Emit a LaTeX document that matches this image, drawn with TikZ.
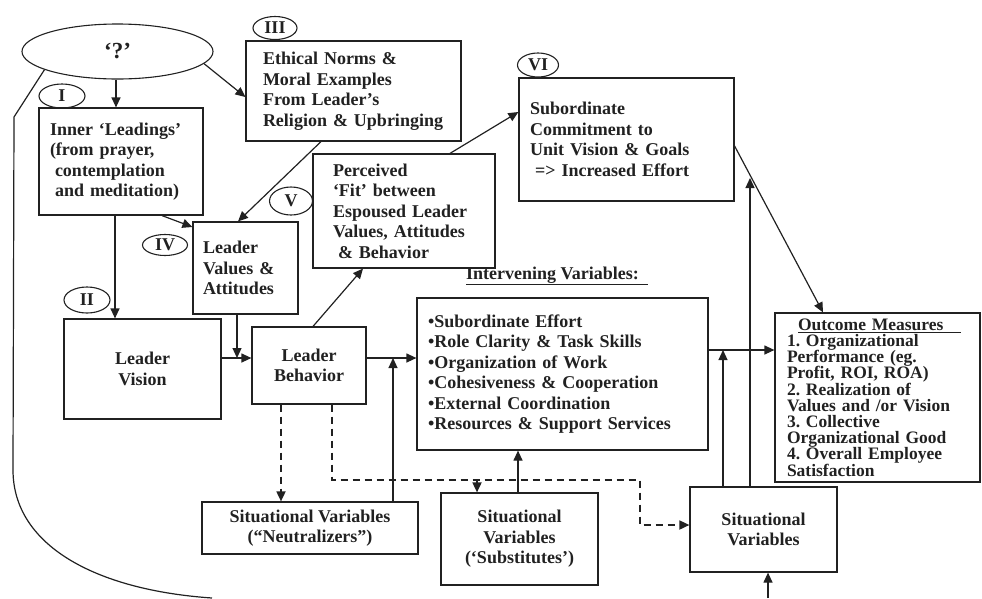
\documentclass[tikz,border=0pt]{standalone}
\usepackage{fontspec}
\setmainfont{Liberation Serif}
\usetikzlibrary{arrows.meta,shapes.geometric,calc}
\definecolor{ink}{rgb}{0.13,0.13,0.13}
\frenchspacing
\begin{document}
\begin{tikzpicture}[x=1pt,y=-1pt,
  every node/.style={text=ink,font=\bfseries\fontsize{18}{20.5}\selectfont},
  box/.style={draw=ink,line width=1.2pt,rectangle,inner ysep=0pt},
  lbox/.style={box,align=left},
  cbox/.style={box,align=center},
  tag/.style={draw=ink,line width=1.1pt,ellipse,inner sep=0pt},
  link/.style={draw=ink,line width=1.2pt,-{Triangle[length=10pt,width=9pt]}},
  plain/.style={draw=ink,line width=1.2pt},
  dlink/.style={draw=ink,line width=1.7pt,dash pattern=on 7pt off 5pt,-{Triangle[length=10pt,width=9pt]}}]
\useasboundingbox (0,0) rectangle (982,598);

% source ellipse
\node[tag,minimum width=191pt,minimum height=55pt,font=\bfseries\fontsize{23}{26}\selectfont] (q) at (117.5,51.5) {‘?’};

% boxes
\node[lbox,minimum width=164pt,minimum height=107pt,text width=142pt,inner xsep=11pt] (I) at (121,161.5)
  {Inner ‘Leadings’\\(from prayer,\\\hspace*{5pt}contemplation\\\hspace*{5pt}and meditation)};
\node[lbox,minimum width=215pt,minimum height=100pt,text width=181pt,inner xsep=17pt] (III) at (353.5,91)
  {Ethical Norms \&\\Moral Examples\\From Leader’s\\Religion \& Upbringing};
\node[lbox,minimum width=105pt,minimum height=92pt,text width=85pt,inner xsep=10pt] (IV) at (245.5,268)
  {Leader\\Values \&\\Attitudes};
\node[lbox,minimum width=182pt,minimum height=114pt,text width=160pt,inner xsep=11pt] (V) at (404,211)
  {\hspace*{9pt}Perceived\\\hspace*{9pt}‘Fit’ between\\\hspace*{9pt}Espoused Leader\\\hspace*{9pt}Values, Attitudes\\\hspace*{14pt}\& Behavior};
\node[lbox,minimum width=215pt,minimum height=123pt,text width=193pt,inner xsep=11pt] (VI) at (626.5,139.5)
  {Subordinate\\Commitment to\\Unit Vision \& Goals\\\hspace*{5pt}=> Increased Effort};
\node[cbox,minimum width=157pt,minimum height=100pt] (II) at (142.5,369) {Leader\\Vision};
\node[cbox,minimum width=114pt,minimum height=77pt] (LB) at (309,365.5) {Leader\\Behavior};
\node[lbox,minimum width=291pt,minimum height=152pt,text width=269pt,inner xsep=11pt] (IVar) at (562.5,374)
  {•Subordinate Effort\\•Role Clarity \& Task Skills\\•Organization of Work\\•Cohesiveness \& Cooperation\\•External Coordination\\•Resources \& Support Services};
\node[cbox,minimum width=216pt,minimum height=52pt] (N) at (310,528)
  {Situational Variables\\(“Neutralizers”)};
\node[cbox,minimum width=157pt,minimum height=92pt] (S) at (519.5,539)
  {Situational\\Variables\\(‘Substitutes’)};
\node[cbox,minimum width=147pt,minimum height=85pt] (SV) at (763.5,529.5)
  {Situational\\Variables};
\node[lbox,minimum width=205pt,minimum height=169pt,text width=181pt,inner xsep=12pt,
  font=\bfseries\fontsize{17.5}{16.2}\selectfont] (OM) at (877.5,397.5)
  {\hspace*{11pt}\underline{\makebox[163pt][l]{Outcome Measures}}\\1. Organizational\\Performance (eg.\\Profit, ROI, ROA)\\2. Realization of\\Values and /or Vision\\3. Collective\\Organizational Good\\4. Overall Employee\\Satisfaction};

% header of the intervening block
\node[inner sep=0pt] (ivhead) at (557,276) {\underline{Intervening Variables:\ \ }};

% roman numeral tags
\node[tag,minimum width=46pt,minimum height=24pt] (tI) at (62,96) {I};
\node[tag,minimum width=46pt,minimum height=26pt] (tII) at (87,300) {II};
\node[tag,minimum width=44pt,minimum height=23pt] (tIII) at (275,28) {III};
\node[tag,minimum width=45pt,minimum height=21pt] (tIV) at (165,245) {IV};
\node[tag,minimum width=43pt,minimum height=28pt] (tV) at (291,201) {V};
\node[tag,minimum width=41pt,minimum height=24pt] (tVI) at (538,65) {VI};

% junction points on the connectors
\coordinate (jvis) at (237,358);
\coordinate (jneu) at (393,358);
\coordinate (jsv) at (723,350);
\coordinate (jcom) at (750,178);
\coordinate (dcorner) at (640,480);
\coordinate (dsub) at (477,480);
\coordinate (bot) at (768,598);
\coordinate (c1) at (14,117);
\coordinate (c2) at (13,470);
\coordinate (c3) at (212,598);

% solid connectors
\draw[link] (q.south -| 116,0) -- (I.north -| 116,0);
\draw[link] (q.-8) -- (III.west |- 0,97);
\draw[link] (I.south -| 115,0) -- (II.north -| 115,0);
\draw[link] (I.south -| 162,0) -- (IV.west |- 0,227);
\draw[link] (III.south -| 321,0) -- (IV.north -| 238,0);
\draw[link] (IV.south -| 237,0) -- (jvis);
\draw[link] (II.east |- 0,358) -- (LB.west |- 0,358);
\draw[link] (LB.north -| 313,0) -- (V.south -| 363,0);
\draw[link] (V.north -| 450,0) -- (VI.west |- 0,112);
\draw[link] (VI.east |- 0,146) -- (OM.north -| 823,0);
\draw[link] (SV.north -| 750,0) -- (jcom);
\draw[link] (LB.east |- 0,358) -- (IVar.west |- 0,358);
\draw[link] (N.north -| 393,0) -- (jneu);
\draw[link] (S.north -| 518,0) -- (IVar.south -| 518,0);
\draw[link] (IVar.east |- 0,350) -- (OM.west |- 0,350);
\draw[link] (SV.north -| 723,0) -- (jsv);
\draw[link] (bot) -- (SV.south -| 768,0);

% dashed moderator paths
\draw[dlink] (LB.south -| 281,0) -- (N.north -| 281,0);
\draw[dlink] (LB.south -| 332,0) |- (dcorner) |- (SV.west |- 0,525);
\draw[dlink] (dsub) -- (S.north -| 477,0);

% feedback loop from the source
\draw[plain] (q.194) -- (c1) -- (c2) .. controls (13,545) and (95,590) .. (c3);
\end{tikzpicture}
\end{document}
